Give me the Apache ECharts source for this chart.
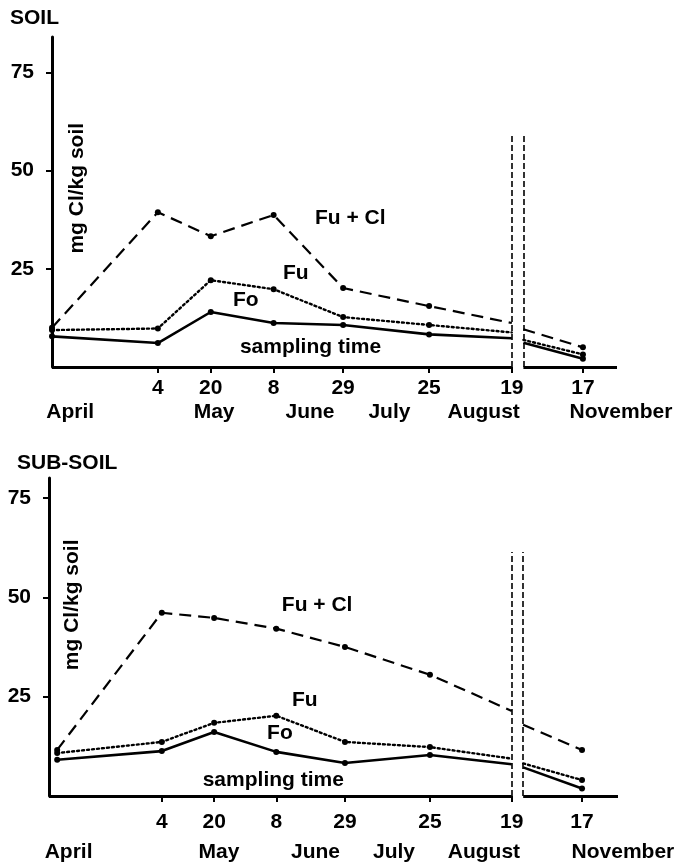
<!DOCTYPE html>
<html>
<head>
<meta charset="utf-8">
<script src="https://cdn.jsdelivr.net/npm/echarts@6/dist/echarts.min.js"></script>
<style>
  html, body { margin: 0; padding: 0; background: #fff; }
  #chart { width: 675px; height: 864px; }
</style>
</head>
<body>
<div id="chart"></div>
<script>
// Sampling dates as day of year: April start, May 4, May 20, June 8, June 29, July 25, August 19, November 17
const sampleDays = [92, 124, 140, 159, 180, 206, 231, 321];
const dayLabels  = ['', '4', '20', '8', '29', '25', '19', '17'];
const monthNames = ['April', 'May', 'June', 'July', 'August', 'November'];

// SOIL, mg Cl/kg soil
const soilFuCl = [10.0, 39.4, 33.3, 38.7, 20.1, 15.5, 11.2, 5.0];
const soilFu   = [9.4, 9.8, 22.1, 19.8, 12.7, 10.7, 8.8, 3.2];
const soilFo   = [7.8, 6.1, 14.0, 11.2, 10.7, 8.3, 7.3, 2.1];
// level at which each line resumes after the axis cut
const soilResume = [9.6, 6.9, 6.2];

// SUB-SOIL, mg Cl/kg soil
const subFuCl = [11.6, 46.1, 44.8, 42.1, 37.5, 30.5, 21.4, 11.6];
const subFu   = [10.8, 13.6, 18.4, 20.2, 13.6, 12.3, 9.4, 4.0];
const subFo   = [9.1, 11.3, 16.1, 11.1, 8.3, 10.3, 8.0, 1.9];
const subResume = [17.9, 8.2, 7.2];

// The time axis is cut between August and November
const CUT_AFTER = 232;      // last day before the cut
const CUT_SKIP = 68.5;      // days removed from the axis by the cut
const RESUME_DAY = 303;     // day at which the axis picks up again
function axisPos(day) { return day > CUT_AFTER ? day - CUT_SKIP : day; }

const FONT = "'Liberation Sans', Arial, Helvetica, sans-serif";
const INK = '#000';
const TEXT = { color: INK, fontFamily: FONT, fontSize: 21, fontWeight: 'bold' };

// layout of each panel
const panels = [
  {
    title: 'SOIL', titleX: 10, titleY: 8,
    grid: { left: 52, right: 58, top: 37, height: 330 },
    xMin: 92, xMax: 262.8, yMax: 84,
    tickMargin: 11, monthOffset: 45,
    monthPos: [97.5, 141, 170, 194, 222.5, 264],
    cutTop: 59.5,
    fuCl: soilFuCl, fu: soilFu, fo: soilFo, resume: soilResume,
    notes: { fuCl: [171.5, 37.9], fu: [161.8, 23.9], fo: [146.7, 17.0], time: [148.8, 5.1], unit: [99.5, 45.5] }
  },
  {
    title: 'SUB-SOIL', titleX: 17, titleY: 453,
    grid: { left: 49, right: 57, top: 478, height: 318 },
    xMin: 89.5, xMax: 263.5, yMax: 80,
    tickMargin: 16, monthOffset: 56,
    monthPos: [95.5, 141.5, 171, 195, 222.5, 265],
    cutTop: 61.4,
    fuCl: subFuCl, fu: subFu, fo: subFo, resume: subResume,
    notes: { fuCl: [160.7, 48.1], fu: [163.8, 24.2], fo: [156.2, 15.9], time: [136.5, 4.0], unit: [96.5, 48.1] }
  }
];

const tickValues = sampleDays.slice(1).map(axisPos);
const tickText = new Map(sampleDays.map((d, i) => [axisPos(d), dayLabels[i]]));

// points up to the August sampling, with a dot on each except the last
function beforeCut(values) {
  const pts = [];
  for (let i = 0; i < 7; i++) {
    pts.push({ value: [axisPos(sampleDays[i]), values[i]], symbolSize: i === 6 ? 0 : 6 });
  }
  return pts;
}
// the stretch after the cut, ending at the November sampling
function afterCut(values, resumeValue) {
  return [
    { value: [axisPos(RESUME_DAY), resumeValue], symbolSize: 0 },
    { value: [axisPos(sampleDays[7]), values[7]], symbolSize: 6 }
  ];
}

function note(text, coord, extra) {
  return Object.assign({
    coord: coord,
    symbol: 'circle', symbolSize: 0,
    label: Object.assign({ show: true, position: 'right', distance: 0, formatter: text }, TEXT)
  }, extra || {});
}

const xAxes = [], yAxes = [], grids = [], series = [];

const styles = {
  fuCl: { color: INK, width: 2.2, type: [12, 7] },
  fu:   { color: INK, width: 2.4, type: [2, 3], cap: 'round' },
  fo:   { color: INK, width: 2.6, type: 'solid' }
};
const names = { fuCl: 'Fu + Cl', fu: 'Fu', fo: 'Fo' };

panels.forEach((p, k) => {
  grids.push(Object.assign({ containLabel: false, outerBoundsMode: 'none' }, p.grid));
  xAxes.push({
    gridIndex: k, type: 'value', position: 'bottom', min: p.xMin, max: p.xMax,
    splitLine: { show: false },
    axisLine: { show: false },
    axisTick: { show: true, customValues: tickValues, length: 6, lineStyle: { color: INK, width: 2 } },
    axisLabel: Object.assign({
      customValues: tickValues, margin: p.tickMargin,
      formatter: v => tickText.get(v) || ''
    }, TEXT)
  });
  yAxes.push({
    gridIndex: k, type: 'value', position: 'left', min: 0, max: p.yMax,
    splitLine: { show: false },
    axisLine: { show: true, lineStyle: { color: INK, width: 3 } },
    axisTick: { show: true, customValues: [25, 50, 75], length: 6, lineStyle: { color: INK, width: 2 } },
    axisLabel: Object.assign({ customValues: [25, 50, 75], margin: 18 }, TEXT)
  });

  const cutL = axisPos(sampleDays[6]);
  const cutR = axisPos(RESUME_DAY);
  const resumeIdx = { fuCl: 0, fu: 1, fo: 2 };

  ['fuCl', 'fu', 'fo'].forEach(key => {
    const common = {
      type: 'line', name: names[key], xAxisIndex: k, yAxisIndex: k,
      symbol: 'circle', showSymbol: true,
      itemStyle: { color: INK },
      lineStyle: styles[key]
    };
    const first = Object.assign({}, common, { data: beforeCut(p[key]) });
    if (key === 'fuCl') first.markPoint = { silent: true, data: [note('Fu + Cl', p.notes.fuCl)] };
    if (key === 'fu') first.markPoint = { silent: true, data: [note('Fu', p.notes.fu)] };
    if (key === 'fo') {
      first.markPoint = {
        silent: true,
        data: [
          note('Fo', p.notes.fo),
          note('sampling time', p.notes.time),
          note('mg Cl/kg soil', p.notes.unit, {
            label: Object.assign({ show: true, position: 'inside', rotate: 90, formatter: 'mg Cl/kg soil' }, TEXT)
          })
        ]
      };
      first.markLine = {
        silent: true, symbol: ['none', 'none'], label: { show: false },
        lineStyle: { color: INK },
        data: [
          // time axis, split at the cut
          [{ coord: [p.xMin, 0], lineStyle: { type: 'solid', width: 3 } }, { coord: [cutL, 0] }],
          [{ coord: [cutR, 0], lineStyle: { type: 'solid', width: 3 } }, { coord: [p.xMax, 0] }],
          // dashed cut marks
          [{ coord: [cutL, 0], lineStyle: { type: [6, 3], width: 1.6 } }, { coord: [cutL, p.cutTop] }],
          [{ coord: [cutR, 0], lineStyle: { type: [6, 3], width: 1.6 } }, { coord: [cutR, p.cutTop] }]
        ]
      };
    }
    series.push(first);
    series.push(Object.assign({}, common, { data: afterCut(p[key], p.resume[resumeIdx[key]]) }));
  });
});

const chart = echarts.init(document.getElementById('chart'), null, { renderer: 'canvas' });
chart.setOption({
  animation: false,
  backgroundColor: '#fff',
  grid: grids,
  xAxis: xAxes,
  yAxis: yAxes,
  series: series
});

// panel titles and month names, placed through each panel's scales
const graphics = [];
panels.forEach((p, k) => {
  graphics.push({
    type: 'text', x: p.titleX, y: p.titleY,
    style: { text: p.title, fill: INK, font: 'bold 21px ' + FONT, textVerticalAlign: 'top' }
  });
  const y0 = chart.convertToPixel({ yAxisIndex: k }, 0);
  p.monthPos.forEach((pos, i) => {
    graphics.push({
      type: 'text',
      x: chart.convertToPixel({ xAxisIndex: k }, pos),
      y: y0 + p.monthOffset,
      style: {
        text: monthNames[i], fill: INK, font: 'bold 21px ' + FONT,
        textAlign: 'center', textVerticalAlign: 'middle'
      }
    });
  });
});
chart.setOption({ graphic: graphics });
</script>
</body>
</html>
